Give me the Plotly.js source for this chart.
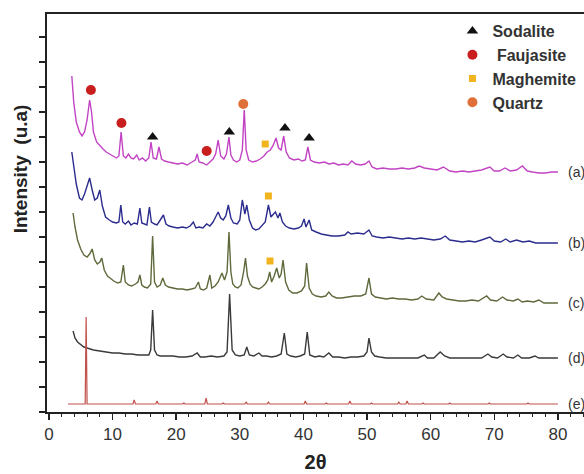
<!DOCTYPE html>
<html>
<head>
<meta charset="utf-8">
<script src="https://cdn.plot.ly/plotly-3.0.1.min.js"></script>
<style>html,body{margin:0;padding:0;background:#fff;}#chart{width:584px;height:474px;}</style>
</head>
<body>
<div id="chart"></div>
<script>
// ---- Data (2θ in degrees, intensity in arbitrary stacked units) ----
const aX = [3.6,3.9,4.3,4.8,5.2,5.6,6.0,6.4,6.7,7.0,7.5,8.0,8.5,9.0,9.5,10.0,10.6,11.0,11.35,11.7,12.1,12.5,12.9,13.3,13.8,14.2,14.7,15.2,15.7,16.05,16.4,16.9,17.3,17.7,18.2,18.8,19.5,20.2,21.0,21.7,22.5,23.0,23.3,23.6,24.2,24.8,25.3,25.8,26.2,26.6,27.0,27.5,27.9,28.3,28.6,29.0,29.5,30.0,30.4,30.7,31.0,31.4,32.0,32.6,33.2,33.8,34.3,34.8,35.2,35.7,36.1,36.5,36.9,37.3,37.8,38.5,39.2,39.8,40.3,40.7,41.1,41.7,42.5,43.3,44.0,44.8,45.5,46.3,47.0,47.6,48.2,49.0,49.7,50.3,50.8,51.5,52.5,53.5,54.5,55.5,56.5,57.5,58.2,59.0,60.0,61.0,62.0,63.0,64.0,65.0,66.0,67.0,68.0,69.3,70.0,70.8,71.7,72.5,73.5,74.4,75.2,76.0,77.0,78.0,79.0,80.0];
const aY = [336,310,290,280,276,280,292,312,300,280,270,266,263,260,258,256,254,256,280,256,254,258,254,253,257,252,254,251,254,270,254,253,265,253,251,250,249,248,249,247,250,252,258,250,249,247,250,253,258,272,256,253,258,275,257,252,250,252,262,302,262,252,250,251,253,256,260,262,266,274,264,262,276,260,254,252,253,251,252,265,252,250,249,250,248,249,247,248,247,251,248,247,248,251,245,243,244,243,243,244,243,244,246,244,243,242,245,241,240,241,240,241,242,245,241,241,244,241,242,246,241,240,239,239,240,240];

const bX = [3.6,3.9,4.3,4.8,5.2,5.6,6.0,6.4,6.8,7.2,7.6,8.0,8.4,8.9,9.5,10.0,10.6,11.0,11.3,11.6,12.0,12.5,12.9,13.4,13.9,14.3,14.6,15.0,15.4,15.8,16.1,16.6,17.0,17.5,18.0,18.4,18.9,19.5,20.2,21.0,21.6,22.2,22.7,23.1,23.6,24.2,24.8,25.3,25.8,26.2,26.6,27.0,27.4,27.8,28.2,28.6,29.0,29.6,30.0,30.4,30.8,31.1,31.5,32.0,32.5,33.0,33.5,34.0,34.5,34.9,35.3,35.6,36.0,36.3,36.7,37.2,37.8,38.5,39.2,39.7,40.1,40.4,40.9,41.3,42.0,42.8,43.6,44.5,45.5,46.5,47.0,47.5,48.5,49.5,50.3,50.8,51.5,52.5,53.5,54.5,55.5,56.5,57.5,58.5,59.5,60.5,61.5,62.3,63.0,64.0,65.0,66.0,67.0,68.0,69.3,70.0,71.0,71.8,72.5,73.5,74.5,75.5,76.5,77.5,78.5,80.0];
const bY = [260,245,228,214,212,218,226,234,222,212,214,222,206,195,192,190,189,190,207,190,188,191,187,189,188,204,189,188,187,205,190,188,187,192,197,188,186,185,184,185,184,186,190,184,185,184,188,186,190,195,200,194,192,196,207,194,189,188,192,212,198,207,192,184,182,183,186,190,207,195,198,200,194,199,190,186,184,183,184,186,193,185,192,182,180,178,177,176,176,177,180,178,179,178,182,176,175,174,175,174,173,174,173,174,173,172,173,176,172,171,170,171,170,172,175,171,170,173,170,172,170,171,169,169,169,169];

const cX = [3.8,4.1,4.5,5.0,5.5,6.0,6.4,6.8,7.2,7.6,8.0,8.3,8.7,9.2,9.6,10.2,10.8,11.3,11.7,12.0,12.5,13.0,13.6,14.0,14.3,14.6,15.0,15.5,16.0,16.3,16.6,17.0,17.5,17.9,18.3,18.8,19.5,20.2,21.0,21.7,22.4,23.0,23.5,23.8,24.3,24.8,25.3,25.6,26.1,26.6,27.2,27.6,28.0,28.3,28.6,28.9,29.3,29.7,30.2,30.6,30.9,31.2,31.6,32.0,32.5,33.0,33.5,34.0,34.4,34.7,35.0,35.4,35.8,36.2,36.5,36.8,37.2,37.7,38.3,39.0,39.7,40.2,40.5,40.9,41.4,42.0,42.8,43.5,44.0,44.5,45.2,46.0,47.0,48.0,49.0,49.8,50.3,50.7,51.3,52.0,53.0,54.0,55.0,56.0,57.0,58.0,58.6,59.3,60.5,61.3,61.8,62.5,63.5,64.5,65.5,66.5,67.5,68.8,69.4,70.4,71.3,72.0,73.0,73.7,74.4,75.2,76.2,77.0,77.8,78.7,80.0];
const cY = [199,185,172,163,157,155,158,163,152,148,150,154,142,136,134,131,129,130,147,130,127,126,128,130,137,127,125,124,128,176,130,125,127,134,127,125,124,123,123,122,123,124,130,123,122,124,137,124,126,130,139,132,140,180,140,128,125,124,127,140,154,136,128,125,124,123,125,128,132,140,130,136,144,134,138,152,130,122,119,119,121,126,149,124,118,116,115,116,120,116,114,114,115,116,116,118,134,118,115,114,113,114,113,113,112,113,116,113,112,119,115,113,112,111,111,112,111,116,112,111,115,112,111,113,110,111,110,112,109,109,109];

const dX = [3.8,4.1,4.5,5.0,5.5,6.0,7.0,8.0,9.0,10.0,11.0,12.0,13.0,14.0,15.0,15.7,16.0,16.3,16.6,17.0,17.5,18.5,19.5,20.5,21.5,22.5,23.3,23.8,24.5,25.5,26.5,27.5,28.0,28.4,28.8,29.3,30.0,30.7,31.1,31.5,32.2,33.0,33.5,34.2,35.0,35.8,36.5,37.0,37.4,38.0,38.8,39.5,40.2,40.6,41.0,41.8,42.5,43.2,44.0,44.6,45.5,46.5,47.5,48.5,49.5,50.0,50.3,50.7,51.2,52.0,53.0,54.0,55.0,56.0,57.0,58.0,59.0,59.5,60.5,61.5,62.2,63.0,64.0,65.0,66.0,67.0,68.0,69.0,69.6,70.5,71.4,72.0,73.0,73.7,74.3,75.5,76.4,77.0,78.0,79.0,80.0];
const dY = [81,74,70,67,65,64,62,61,60,59,59,58,58,57,57,57,62,102,62,57,56,56,56,55,55,56,59,55,55,56,55,56,60,118,62,57,56,57,65,57,56,59,56,56,55,56,58,79,58,56,55,56,58,80,57,55,56,55,59,55,55,54,55,55,56,60,74,60,56,55,54,54,54,54,54,54,57,54,54,60,56,54,54,54,54,54,54,58,55,54,58,55,54,57,54,54,56,54,54,54,54];

const eX = [3.0,5.7,5.85,6.0,13.2,13.4,13.6,16.8,17.0,17.2,21.0,21.2,21.4,24.5,24.7,24.9,27.2,27.4,27.6,30.8,31.0,31.2,34.3,34.5,34.7,40.1,40.3,40.5,43.4,43.6,43.8,47.1,47.3,47.5,50.5,50.7,50.9,54.8,55.0,55.2,56.1,56.3,56.5,58.6,58.8,59.0,62.8,63.0,63.2,69.0,69.2,69.4,75.1,75.3,75.5,80.0];
const eY = [8,8,95,8,8,12,8,8,11,8,8,9,8,8,14,8,8,9,8,8,10,8,8,10,8,8,11,8,8,9,8,8,11,8,8,9,8,8,10,8,8,11,8,8,9,8,8,9,8,8,9,8,8,9,8,8];

// phase markers
const sodaliteX = [16.3, 28.35, 37.1, 40.9];
const sodaliteY = [275, 280, 284, 274];
const faujasiteX = [6.6, 11.4, 24.8];
const faujasiteY = [322, 289, 261];
const maghemiteX = [34.0, 34.5, 34.75];
const maghemiteY = [268, 216, 151];
const quartzX = [30.55];
const quartzY = [308];

const sampleLabels = ['(a)','(b)','(c)','(d)','(e)'];
const seriesX = [aX,bX,cX,dX,eX];
const seriesY = [aY,bY,cY,dY,eY];
const seriesColors = ['#c244c4','#2c2c8e','#5e6a3c','#3a3a3a','#c0504a'];
const seriesWidths = [1.4,1.4,1.4,1.4,1.2];

const traces = [];
for (let i = 0; i < 5; i++) {
  traces.push({x: seriesX[i], y: seriesY[i], type:'scatter', mode:'lines',
    line:{color: seriesColors[i], width: seriesWidths[i]}, showlegend:false, hoverinfo:'skip'});
}
traces.push({x:sodaliteX, y:sodaliteY, type:'scatter', mode:'markers', name:'Sodalite',
  marker:{symbol:'triangle-up', size:10, color:'#111'}});
traces.push({x:faujasiteX, y:faujasiteY, type:'scatter', mode:'markers', name:' Faujasite',
  marker:{symbol:'circle', size:10, color:'#c81e1e'}});
traces.push({x:maghemiteX, y:maghemiteY, type:'scatter', mode:'markers', name:'Maghemite',
  marker:{symbol:'square', size:7, color:'#f2b41e'}});
traces.push({x:quartzX, y:quartzY, type:'scatter', mode:'markers', name:'Quartz',
  marker:{symbol:'circle', size:10, color:'#e0703a'}});

const annotations = [];
for (let i = 0; i < 5; i++) {
  const xs = seriesX[i], ys = seriesY[i];
  annotations.push({x: xs[xs.length-1] + 1.2, y: ys[ys.length-1], xref:'x', yref:'y',
    text: sampleLabels[i], showarrow:false, xanchor:'left', yanchor:'middle',
    font:{family:'Liberation Sans, Arial, sans-serif', size:14, color:'#333'}});
}
annotations.push({x:-0.05, y:0.61, xref:'paper', yref:'paper', text:'Intensity  (u.a)',
  textangle:-90, showarrow:false, xanchor:'center', yanchor:'middle',
  font:{family:'Liberation Sans, Arial, sans-serif', size:19, color:'#222', weight:'bold'}});

const layout = {
  width:584, height:474,
  margin:{l:47, r:0, t:14, b:62},
  paper_bgcolor:'#fff', plot_bgcolor:'#fff',
  showlegend:true,
  legend:{x:0.755, y:1.0, xanchor:'left', yanchor:'top', bgcolor:'rgba(0,0,0,0)', borderwidth:0,
    font:{family:'Liberation Sans, Arial, sans-serif', size:16, color:'#333', weight:'bold'}},
  xaxis:{range:[-0.3,84.1], tick0:0, dtick:10, ticks:'outside', ticklen:6, tickwidth:1.5, tickcolor:'#222',
    minor:{dtick:2, ticks:'outside', ticklen:3, tickcolor:'#222', tickwidth:1},
    showline:true, linewidth:2, linecolor:'#222', mirror:true, showgrid:false, zeroline:false,
    tickfont:{family:'Liberation Sans, Arial, sans-serif', size:17, color:'#333'},
    title:{text:'2θ', standoff:12, font:{family:'Liberation Sans, Arial, sans-serif', size:20, color:'#222', weight:'bold'}}},
  yaxis:{range:[0,398], tick0:0, dtick:25, ticks:'outside', ticklen:6, tickwidth:1.5, tickcolor:'#222',
    showticklabels:false, showline:true, linewidth:2, linecolor:'#222', showgrid:false, zeroline:false},
  annotations: annotations
};

Plotly.newPlot('chart', traces, layout, {staticPlot:true, displayModeBar:false});
</script>
</body>
</html>
